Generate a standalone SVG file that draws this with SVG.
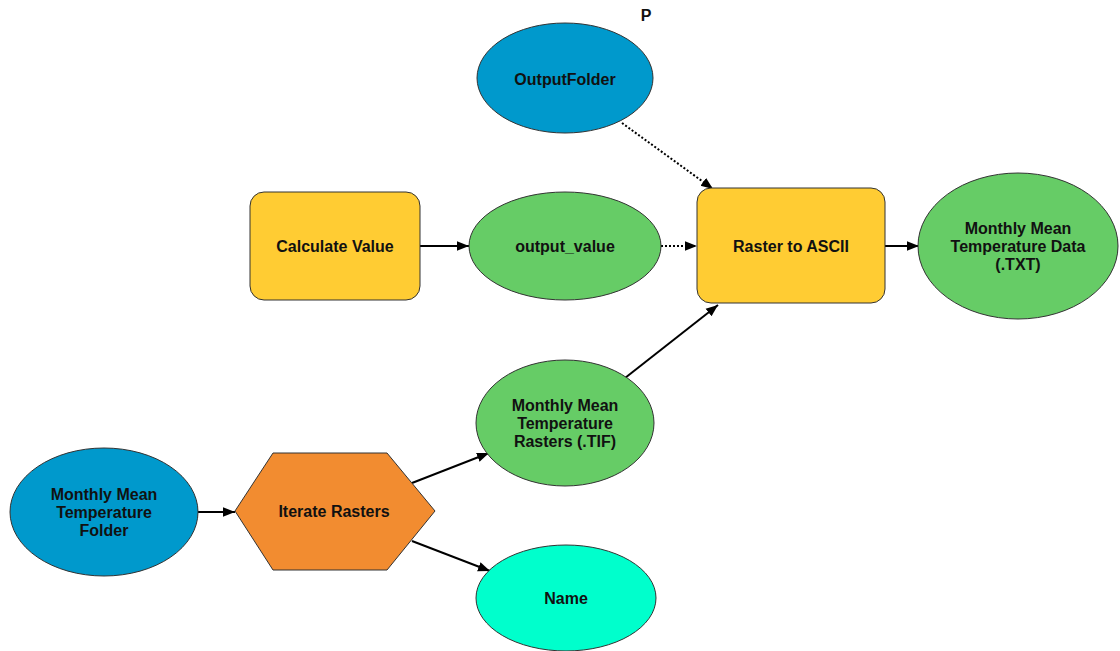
<svg xmlns="http://www.w3.org/2000/svg" width="1120" height="651" viewBox="0 0 1120 651">
<defs>
<style>
.lbl{font-family:"Liberation Sans",Arial,sans-serif;font-weight:bold;font-size:16px;fill:#111;text-anchor:middle;dominant-baseline:central}
.nd{stroke:#333;stroke-width:1}
.ln{stroke:#000;stroke-width:2;fill:none}
.dot{stroke:#000;stroke-width:2;fill:none;stroke-dasharray:2 2}
</style>
<marker id="ah" viewBox="0 0 10 10" refX="10" refY="5" markerWidth="6" markerHeight="6" orient="auto" markerUnits="strokeWidth">
<path d="M0,1 L10,5 L0,9 z" fill="#000"/>
</marker>
</defs>
<rect width="1120" height="651" fill="#fff"/>
<text class="lbl" x="646" y="15">P</text>
<g id="connectors">
<line class="ln" x1="198" y1="512" x2="235" y2="512" marker-end="url(#ah)"/>
<line class="ln" x1="412" y1="483" x2="489" y2="453" marker-end="url(#ah)"/>
<line class="ln" x1="412" y1="541" x2="490" y2="571" marker-end="url(#ah)"/>
<line class="ln" x1="625" y1="378" x2="718" y2="305" marker-end="url(#ah)"/>
<line class="ln" x1="420" y1="246" x2="469" y2="246" marker-end="url(#ah)"/>
<line class="dot" x1="661" y1="246" x2="697" y2="246" marker-end="url(#ah)"/>
<line class="dot" x1="622" y1="123" x2="713" y2="189" marker-end="url(#ah)"/>
<line class="ln" x1="885" y1="246" x2="919" y2="246" marker-end="url(#ah)"/>
</g>
<g id="outputfolder">
<ellipse class="nd" cx="565" cy="78" rx="88" ry="55" fill="#0099cc"/>
<text class="lbl" x="565" y="79">OutputFolder</text>
</g>
<g id="calculatevalue">
<rect class="nd" x="250" y="192" width="170" height="108" rx="14" fill="#ffcc33"/>
<text class="lbl" x="335" y="246">Calculate Value</text>
</g>
<g id="outputvalue">
<ellipse class="nd" cx="565" cy="246" rx="96" ry="54" fill="#66cc66"/>
<text class="lbl" x="565" y="246">output_value</text>
</g>
<g id="rastertoascii">
<rect class="nd" x="697" y="188" width="188" height="115" rx="14" fill="#ffcc33"/>
<text class="lbl" x="791" y="246">Raster to ASCII</text>
</g>
<g id="tempdata">
<ellipse class="nd" cx="1018" cy="246" rx="100" ry="73" fill="#66cc66"/>
<text class="lbl" x="1018" y="228">Monthly Mean</text>
<text class="lbl" x="1018" y="246">Temperature Data</text>
<text class="lbl" x="1018" y="264">(.TXT)</text>
</g>
<g id="tempfolder">
<ellipse class="nd" cx="104" cy="512" rx="94" ry="64" fill="#0099cc"/>
<text class="lbl" x="104" y="494">Monthly Mean</text>
<text class="lbl" x="104" y="512">Temperature</text>
<text class="lbl" x="104" y="530">Folder</text>
</g>
<g id="iterate">
<polygon class="nd" points="235,511 273,453 387,453 435,511 387,570 273,570" fill="#f28c30"/>
<text class="lbl" x="334" y="511">Iterate Rasters</text>
</g>
<g id="rasters">
<ellipse class="nd" cx="565" cy="423" rx="89" ry="63" fill="#66cc66"/>
<text class="lbl" x="565" y="405">Monthly Mean</text>
<text class="lbl" x="565" y="423">Temperature</text>
<text class="lbl" x="565" y="441">Rasters (.TIF)</text>
</g>
<g id="name">
<ellipse class="nd" cx="566" cy="598" rx="90" ry="53" fill="#00ffcc"/>
<text class="lbl" x="566" y="598">Name</text>
</g>
</svg>
